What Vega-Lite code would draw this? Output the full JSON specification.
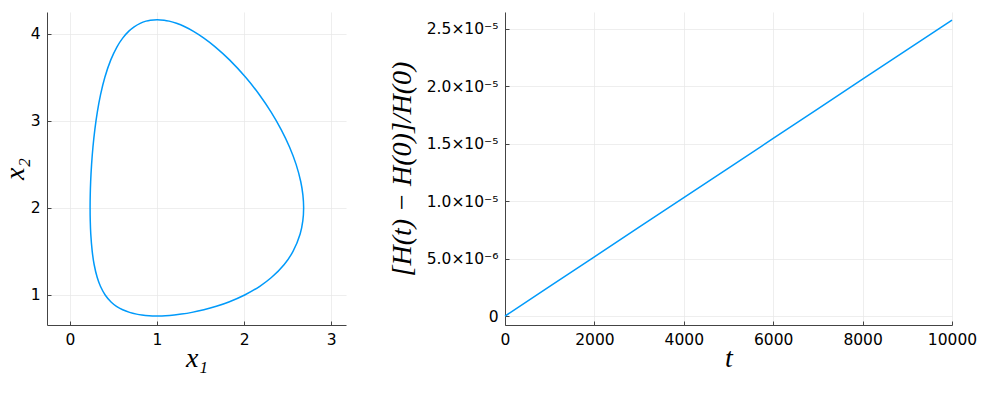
{
  "$schema": "https://vega.github.io/schema/vega-lite/v6.json",
  "padding": {"left": 1, "top": 12, "right": 10, "bottom": 5},
  "bounds": "flush",
  "spacing": 159,
  "config": {
    "view": {"stroke": null},
    "axis": {
      "domainColor": "#444444",
      "domainWidth": 1,
      "tickColor": "#444444",
      "tickSize": -4,
      "tickWidth": 1,
      "gridColor": "#e6e6e6",
      "gridWidth": 0.7,
      "labelFont": "DejaVu Sans",
      "labelFontSize": 15.5,
      "labelColor": "#000000",
      "labelPadding": 11,
      "labelOverlap": false,
      "labelFlush": false,
      "titleFont": "Liberation Serif",
      "titleFontStyle": "italic",
      "titleFontWeight": "normal",
      "titleFontSize": 28,
      "titleColor": "#000000"
    }
  },
  "hconcat": [
    {
      "width": 299,
      "height": 313,
      "data": {"values": [
        {"i": 0, "x1": 1.0, "x2": 0.7592},
        {"i": 1, "x1": 1.0964, "x2": 0.762},
        {"i": 2, "x1": 1.1975, "x2": 0.77},
        {"i": 3, "x1": 1.2797, "x2": 0.78},
        {"i": 4, "x1": 1.4003, "x2": 0.8},
        {"i": 5, "x1": 1.5375, "x2": 0.83},
        {"i": 6, "x1": 1.6807, "x2": 0.87},
        {"i": 7, "x1": 1.8246, "x2": 0.92},
        {"i": 8, "x1": 2.0063, "x2": 1.0},
        {"i": 9, "x1": 2.1799, "x2": 1.1},
        {"i": 10, "x1": 2.3133, "x2": 1.2},
        {"i": 11, "x1": 2.4606, "x2": 1.35},
        {"i": 12, "x1": 2.5615, "x2": 1.5},
        {"i": 13, "x1": 2.6433, "x2": 1.7},
        {"i": 14, "x1": 2.6739, "x2": 1.85},
        {"i": 15, "x1": 2.6834, "x2": 2.0},
        {"i": 16, "x1": 2.6748, "x2": 2.15},
        {"i": 17, "x1": 2.6506, "x2": 2.3},
        {"i": 18, "x1": 2.5969, "x2": 2.5},
        {"i": 19, "x1": 2.5213, "x2": 2.7},
        {"i": 20, "x1": 2.4254, "x2": 2.9},
        {"i": 21, "x1": 2.3101, "x2": 3.1},
        {"i": 22, "x1": 2.1753, "x2": 3.3},
        {"i": 23, "x1": 2.0173, "x2": 3.5},
        {"i": 24, "x1": 1.8322, "x2": 3.7},
        {"i": 25, "x1": 1.6674, "x2": 3.85},
        {"i": 26, "x1": 1.5378, "x2": 3.95},
        {"i": 27, "x1": 1.4139, "x2": 4.03},
        {"i": 28, "x1": 1.3196, "x2": 4.08},
        {"i": 29, "x1": 1.223, "x2": 4.12},
        {"i": 30, "x1": 1.1388, "x2": 4.145},
        {"i": 31, "x1": 1.081, "x2": 4.156},
        {"i": 32, "x1": 1.0, "x2": 4.162},
        {"i": 33, "x1": 0.9231, "x2": 4.156},
        {"i": 34, "x1": 0.873, "x2": 4.145},
        {"i": 35, "x1": 0.806, "x2": 4.12},
        {"i": 36, "x1": 0.7369, "x2": 4.08},
        {"i": 37, "x1": 0.676, "x2": 4.03},
        {"i": 38, "x1": 0.6052, "x2": 3.95},
        {"i": 39, "x1": 0.5401, "x2": 3.85},
        {"i": 40, "x1": 0.4686, "x2": 3.7},
        {"i": 41, "x1": 0.4005, "x2": 3.5},
        {"i": 42, "x1": 0.3511, "x2": 3.3},
        {"i": 43, "x1": 0.3139, "x2": 3.1},
        {"i": 44, "x1": 0.2854, "x2": 2.9},
        {"i": 45, "x1": 0.2638, "x2": 2.7},
        {"i": 46, "x1": 0.248, "x2": 2.5},
        {"i": 47, "x1": 0.2373, "x2": 2.3},
        {"i": 48, "x1": 0.2327, "x2": 2.15},
        {"i": 49, "x1": 0.231, "x2": 2.0},
        {"i": 50, "x1": 0.2329, "x2": 1.85},
        {"i": 51, "x1": 0.2387, "x2": 1.7},
        {"i": 52, "x1": 0.2553, "x2": 1.5},
        {"i": 53, "x1": 0.2773, "x2": 1.35},
        {"i": 54, "x1": 0.313, "x2": 1.2},
        {"i": 55, "x1": 0.3496, "x2": 1.1},
        {"i": 56, "x1": 0.4043, "x2": 1.0},
        {"i": 57, "x1": 0.4716, "x2": 0.92},
        {"i": 58, "x1": 0.5339, "x2": 0.87},
        {"i": 59, "x1": 0.6053, "x2": 0.83},
        {"i": 60, "x1": 0.6846, "x2": 0.8},
        {"i": 61, "x1": 0.7644, "x2": 0.78},
        {"i": 62, "x1": 0.8255, "x2": 0.77},
        {"i": 63, "x1": 0.909, "x2": 0.762},
        {"i": 64, "x1": 1.0, "x2": 0.7592}
      ]},
      "mark": {"type": "line", "color": "#009AFA", "strokeWidth": 1.5, "interpolate": "catmull-rom"},
      "encoding": {
        "x": {"field": "x1", "type": "quantitative",
              "scale": {"domain": [-0.264, 3.17], "nice": false, "zero": false},
              "axis": {"values": [0, 1, 2, 3], "title": "x₁", "titlePadding": -3}},
        "y": {"field": "x2", "type": "quantitative",
              "scale": {"domain": [0.655, 4.25], "nice": false, "zero": false},
              "axis": {"values": [1, 2, 3, 4], "title": "x₂", "titlePadding": 1}},
        "order": {"field": "i", "type": "quantitative"}
      }
    },
    {
      "width": 447,
      "height": 313,
      "data": {"values": [
        {"t": 0, "err": 0},
        {"t": 1000, "err": 2.578e-6},
        {"t": 2000, "err": 5.156e-6},
        {"t": 3000, "err": 7.734e-6},
        {"t": 4000, "err": 1.0312e-5},
        {"t": 5000, "err": 1.289e-5},
        {"t": 6000, "err": 1.5468e-5},
        {"t": 7000, "err": 1.8046e-5},
        {"t": 8000, "err": 2.0624e-5},
        {"t": 9000, "err": 2.3202e-5},
        {"t": 10000, "err": 2.578e-5}
      ]},
      "mark": {"type": "line", "color": "#009AFA", "strokeWidth": 1.5},
      "encoding": {
        "x": {"field": "t", "type": "quantitative",
              "scale": {"domain": [0, 10000], "nice": false, "zero": false},
              "axis": {"values": [0, 2000, 4000, 6000, 8000, 10000], "format": "d", "title": "t", "titlePadding": -3}},
        "y": {"field": "err", "type": "quantitative",
              "scale": {"domain": [-7.8e-7, 2.648e-5], "nice": false, "zero": false},
              "axis": {"values": [0, 5e-6, 1e-5, 1.5e-5, 2e-5, 2.5e-5],
                       "labelExpr": "datum.value == 0 ? '0' : (datum.value < 9e-6 ? format(datum.value * 1e6, '.1f') + '×10⁻⁶' : format(datum.value * 1e5, '.1f') + '×10⁻⁵')",
                       "title": "[H(t)  −  H(0)]/H(0)", "titlePadding": 10}}
      }
    }
  ]
}
